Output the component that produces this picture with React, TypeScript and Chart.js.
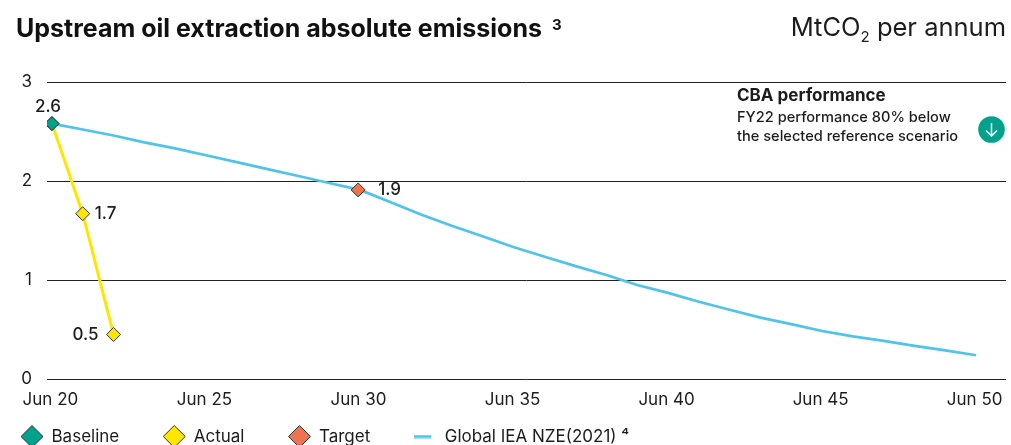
import React, { useEffect, useRef } from "react";
import { Chart, registerables } from "chart.js";

Chart.register(...registerables);

const FONT = "Inter, 'Noto Sans', sans-serif";
const INK = "#1c1c1c";

const tickYears = [2020, 2025, 2030, 2035, 2040, 2045, 2050];
const tickLabels = ["Jun 20", "Jun 25", "Jun 30", "Jun 35", "Jun 40", "Jun 45", "Jun 50"];

const baselineYears = [2020];
const baselineValues = [2.58];
const baselineLabels = ["2.6"];

const actualYears = [2020, 2021, 2022];
const actualValues = [2.58, 1.67, 0.45];
const actualLabels = ["", "1.7", "0.5"];

const targetYears = [2029.94];
const targetValues = [1.91];
const targetLabels = ["1.9"];

const nzeYears = [2020, 2021, 2022, 2023, 2024, 2025, 2026, 2027, 2028, 2029, 2030, 2031, 2032, 2033, 2034, 2035, 2036, 2037, 2038, 2039, 2040, 2041, 2042, 2043, 2044, 2045, 2046, 2047, 2048, 2049, 2050];
const nzeValues = [2.58, 2.52, 2.46, 2.39, 2.33, 2.26, 2.19, 2.12, 2.05, 1.98, 1.91, 1.785, 1.66, 1.545, 1.44, 1.33, 1.235, 1.14, 1.05, 0.95, 0.87, 0.78, 0.7, 0.62, 0.555, 0.485, 0.43, 0.385, 0.335, 0.29, 0.24];

const pts = (xs: number[], ys: number[]) => xs.map((x, i) => ({ x, y: ys[i] }));

const pointLabels = {
  id: "pointLabels",
  afterDatasetsDraw(chart: any) {
    const { ctx } = chart;
    ctx.save();
    ctx.font = `500 17px ${FONT}`;
    ctx.fillStyle = INK;
    ctx.textBaseline = "middle";
    chart.data.datasets.forEach((ds: any, di: number) => {
      const labels: string[] = ds.valueLabels || [];
      chart.getDatasetMeta(di).data.forEach((el: any, i: number) => {
        const t = labels[i];
        if (!t) return;
        const [dx, dy, align] = ds.labelOffset[i];
        ctx.textAlign = align;
        ctx.fillText(t, el.x + dx, el.y + dy);
      });
    });
    ctx.restore();
  },
};

const layoutTweaks = {
  id: "layoutTweaks",
  beforeLayout(chart: any) {
    const lg = chart.legend;
    if (!lg.__wrapped) {
      const fit = lg.fit;
      lg.fit = function () {
        fit.call(this);
        this.height = 22;
      };
      lg.__wrapped = true;
    }
  },
  afterLayout(chart: any) {
    const lg = chart.legend;
    lg.left = -23;
    lg.top = 384;
    lg.bottom = 445 + 60;
  },
};

function lineSwatch(color: string) {
  const c = document.createElement("canvas");
  c.width = 22;
  c.height = 4;
  const g = c.getContext("2d")!;
  g.fillStyle = color;
  g.fillRect(0, 0.5, 17, 3);
  return c;
}

export default function App() {
  const ref = useRef<HTMLCanvasElement>(null);
  useEffect(() => {
    const chart = new Chart(ref.current!, {
      type: "line",
      data: {
        datasets: [
          {
            label: "Baseline",
            data: pts(baselineYears, baselineValues),
            showLine: false,
            pointStyle: "rectRot",
            pointRadius: 7,
            pointBackgroundColor: "#00A28B",
            pointBorderColor: "#333",
            pointBorderWidth: 1,
            valueLabels: baselineLabels,
            labelOffset: [[-4, -17, "center"]],
          },
          {
            label: "Actual",
            data: pts(actualYears, actualValues),
            borderColor: "#FFE600",
            borderWidth: 3,
            pointStyle: "rectRot",
            pointRadius: 7,
            pointBackgroundColor: "#FFE600",
            pointBorderColor: "#333",
            pointBorderWidth: 1,
            valueLabels: actualLabels,
            labelOffset: [[0, 0, "left"], [12, 0, "left"], [-15, 0, "right"]],
          },
          {
            label: "Target",
            data: pts(targetYears, targetValues),
            showLine: false,
            pointStyle: "rectRot",
            pointRadius: 7,
            pointBackgroundColor: "#EE7350",
            pointBorderColor: "#333",
            pointBorderWidth: 1,
            valueLabels: targetLabels,
            labelOffset: [[20, 0, "left"]],
          },
          {
            label: "Global IEA NZE(2021) \u2074",
            data: pts(nzeYears, nzeValues),
            borderColor: "#4FC3EA",
            borderWidth: 2.7,
            pointRadius: 0,
          },
        ] as any,
      },
      options: {
        animation: false,
        responsive: false,
        layout: { autoPadding: false, padding: { top: 82, right: 5, bottom: 0, left: 0 } },
        scales: {
          x: {
            type: "linear",
            min: 2019.84,
            max: 2050.97,
            border: { display: false },
            grid: { display: false },
            afterBuildTicks: (s: any) => {
              s.ticks = tickYears.map((value) => ({ value }));
            },
            afterFit: (s: any) => {
              s.height = 44;
              s.getPadding = () => ({ left: 0, right: 0, top: 0, bottom: 0 });
            },
            ticks: {
              maxRotation: 0,
              autoSkip: false,
              padding: 3,
              labelOffset: -1.5,
              color: INK,
              font: { family: FONT, size: 17 },
              callback: (v: any) => tickLabels[tickYears.indexOf(v)],
            },
          },
          y: {
            min: 0,
            max: 3,
            border: { display: false },
            grid: { color: "#222", lineWidth: 1, drawTicks: false },
            afterFit: (s: any) => {
              s.width = 47;
            },
            ticks: {
              stepSize: 1,
              padding: 15,
              color: INK,
              font: { family: FONT, size: 17 },
            },
          },
        },
        plugins: {
          title: { display: false },
          tooltip: { enabled: false },
          legend: {
            position: "bottom",
            align: "start",
            labels: {
              usePointStyle: true,
              pointStyleWidth: 22,
              boxHeight: 15.5,
              padding: 44,
              color: INK,
              font: { family: FONT, size: 17 },
              generateLabels: (c: any) =>
                c.data.datasets.map((d: any, i: number) => ({
                  text: d.label,
                  datasetIndex: i,
                  pointStyle: d.pointStyle ?? lineSwatch(d.borderColor),
                  fillStyle: d.pointBackgroundColor ?? d.borderColor,
                  strokeStyle: d.pointBorderColor ?? d.borderColor,
                  lineWidth: 1,
                  fontColor: INK,
                })),
            },
          },
        },
      } as any,
      plugins: [pointLabels, layoutTweaks],
    });
    return () => chart.destroy();
  }, []);

  return (
    <div style={{ position: "absolute", left: 0, top: 0, width: 1011, height: 445, background: "#fff", fontFamily: FONT, color: INK, overflow: "hidden" }}>
      <canvas ref={ref} width={1011} height={445} style={{ position: "absolute", left: 0, top: 0, display: "block" }} />
      <div style={{ position: "absolute", left: 16, top: 12, fontSize: 25, fontWeight: 700, lineHeight: "32px", whiteSpace: "nowrap", color: "#111" }}>
        Upstream oil extraction absolute emissions
        <sup style={{ fontSize: 15, lineHeight: 0, marginLeft: 10, position: "relative", top: 2 }}>3</sup>
      </div>
      <div style={{ position: "absolute", right: 5, top: 10, fontSize: 25.5, lineHeight: "34px", whiteSpace: "nowrap" }}>
        MtCO<sub style={{ fontSize: 15, lineHeight: 0 }}>2</sub> per annum
      </div>
      <div style={{ position: "absolute", left: 737, top: 85, fontSize: 17, fontWeight: 700, lineHeight: "20px", whiteSpace: "nowrap" }}>CBA performance</div>
      <div style={{ position: "absolute", left: 737, top: 108, fontSize: 14.6, fontWeight: 500, lineHeight: "19px", whiteSpace: "nowrap" }}>
        FY22 performance 80% below
        <br />
        the selected reference scenario
      </div>
      <svg style={{ position: "absolute", left: 978, top: 116 }} width={27} height={27} viewBox="0 0 27 27">
        <circle cx="13.5" cy="13.5" r="13.3" fill="#00A28B" />
        <path d="M13.5 7v13M8 14.5l5.5 5.5 5.5-5.5" fill="none" stroke="#fff" strokeWidth="1.5" />
      </svg>
    </div>
  );
}
